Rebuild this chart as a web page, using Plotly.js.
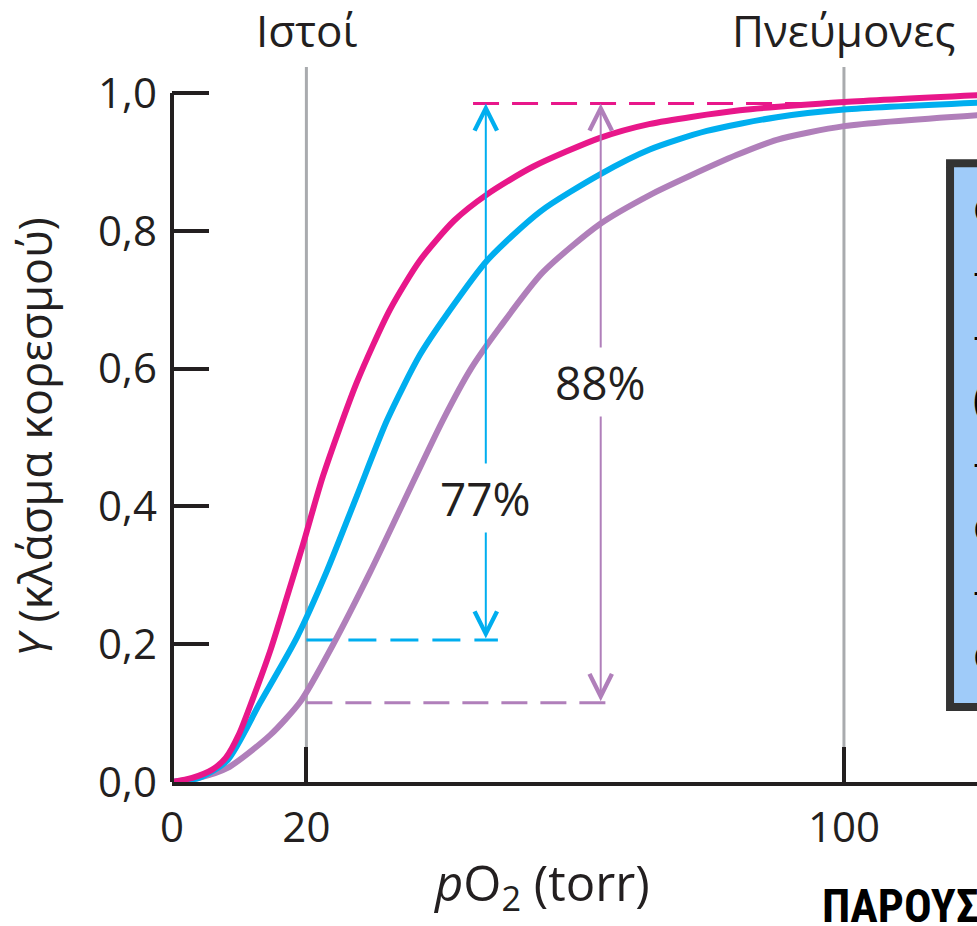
<!DOCTYPE html>
<html>
<head>
<meta charset="utf-8">
<script src="https://cdn.plot.ly/plotly-3.0.1.min.js"></script>
<style>
  html, body { margin: 0; padding: 0; background: #ffffff; }
  #chart { width: 977px; height: 926px; }
</style>
</head>
<body>
<div id="chart"></div>
<script>
// ---- Data ----
const pO2Magenta = [0, 3, 6, 8, 10, 12, 14.6, 17, 19.5, 22.5, 27.5, 32.4, 36.9, 42, 46.9, 53.7, 63.7, 71, 84.5, 100, 120];
const yMagenta   = [0, 0.006, 0.018, 0.035, 0.07, 0.12, 0.19, 0.265, 0.345, 0.445, 0.58, 0.685, 0.757, 0.815, 0.853, 0.893, 0.935, 0.955, 0.975, 0.987, 0.997];

const pO2Cyan = [0, 4, 8.2, 13.1, 18.6, 23, 27.5, 32, 36.9, 41, 46.9, 54.8, 63.7, 71.1, 79.6, 90, 100, 120];
const yCyan   = [0, 0.006, 0.031, 0.115, 0.21, 0.305, 0.415, 0.525, 0.62, 0.68, 0.757, 0.828, 0.882, 0.918, 0.945, 0.965, 0.976, 0.986];

const pO2Purple = [0, 4, 8.2, 14.6, 19.2, 24, 29.5, 34.4, 40.3, 44.5, 48.8, 55.2, 63.7, 71.1, 77.1, 84, 90, 100, 120];
const yPurple   = [0, 0.006, 0.02, 0.068, 0.118, 0.2, 0.305, 0.405, 0.525, 0.6, 0.66, 0.74, 0.81, 0.852, 0.88, 0.91, 0.932, 0.952, 0.968];

const refLineX      = [20, 100];
const refLineLabels = ['Ιστοί', 'Πνεύμονες'];

const xTickVals = [0, 20, 100];
const xTickText = ['0', '20', '100'];
const yTickVals = [0, 0.2, 0.4, 0.6, 0.8, 1.0];
const yTickText = ['0,0', '0,2', '0,4', '0,6', '0,8', '1,0'];

// delivery guide lines
const satTop        = 0.985;
const magentaDashX  = [44.8, 100];
const cyanLow       = 0.206;
const cyanDashX     = [20, 48.5];
const cyanArrowX    = 46.7;
const cyanLabel     = '77%';
const cyanLabelY    = 0.412;
const purpleLow     = 0.115;
const purpleDashX   = [20, 65.5];
const purpleArrowX  = 63.8;
const purpleLabel   = '88%';
const purpleLabelY  = 0.58;

const boxFragments = ['ά', '-', '-', '(', '-', 'ά', '-', 'ά'];

// ---- Styles ----
const MAGENTA = '#E8178A';
const CYAN = '#00AEEF';
const PURPLE = '#B07FBA';
const GRAY = '#A9ABAE';
const DARK = '#231F20';
const FONT = '"Open Sans", "Noto Sans", sans-serif';

const traces = [
  { x: [magentaDashX[0], magentaDashX[1]], y: [satTop, satTop], mode: 'lines',
    line: { color: MAGENTA, width: 3, dash: '26px,13px' }, hoverinfo: 'skip' },
  { x: [cyanDashX[0], cyanDashX[1]], y: [cyanLow, cyanLow], mode: 'lines',
    line: { color: CYAN, width: 3, dash: '28px,14px' }, hoverinfo: 'skip' },
  { x: [purpleDashX[0], purpleDashX[1]], y: [purpleLow, purpleLow], mode: 'lines',
    line: { color: PURPLE, width: 3, dash: '26px,13px' }, hoverinfo: 'skip' },
  { x: pO2Purple, y: yPurple, mode: 'lines', line: { color: PURPLE, width: 6, shape: 'spline', smoothing: 0.7 } },
  { x: pO2Cyan, y: yCyan, mode: 'lines', line: { color: CYAN, width: 6, shape: 'spline', smoothing: 0.7 } },
  { x: pO2Magenta, y: yMagenta, mode: 'lines', line: { color: MAGENTA, width: 6, shape: 'spline', smoothing: 0.7 } }
];

const shapes = [];
refLineX.forEach(v => {
  shapes.push({ type: 'line', xref: 'x', yref: 'y', x0: v, x1: v, y0: 0, y1: 1.038,
    line: { color: GRAY, width: 3 }, layer: 'below' });
});
// y axis line from 0 to 1.0
shapes.push({ type: 'line', xref: 'paper', yref: 'y', x0: 0, x1: 0, y0: 0, y1: 1.0,
  line: { color: DARK, width: 4 }, layer: 'above' });
// partially visible box on the right
shapes.push({ type: 'rect', xref: 'paper', yref: 'paper', x0: 0.9665, x1: 1.06, y0: 0.104, y1: 0.857,
  fillcolor: '#9FCBF9', line: { color: '#333333', width: 8 }, layer: 'above' });

const annotations = [
  // arrows
  { x: cyanArrowX, y: satTop, ax: cyanArrowX, ay: cyanLow, xref: 'x', yref: 'y', axref: 'x', ayref: 'y',
    text: '', showarrow: true, arrowhead: 5, startarrowhead: 5, arrowside: 'end+start',
    arrowsize: 2.2, startarrowsize: 2.2, arrowwidth: 2, arrowcolor: CYAN, standoff: 0, startstandoff: 0 },
  { x: purpleArrowX, y: satTop, ax: purpleArrowX, ay: purpleLow, xref: 'x', yref: 'y', axref: 'x', ayref: 'y',
    text: '', showarrow: true, arrowhead: 5, startarrowhead: 5, arrowside: 'end+start',
    arrowsize: 2.2, startarrowsize: 2.2, arrowwidth: 2, arrowcolor: PURPLE, standoff: 0, startstandoff: 0 },
  // percentage labels
  { x: cyanArrowX, y: cyanLabelY, xref: 'x', yref: 'y', text: cyanLabel, showarrow: false,
    font: { family: FONT, size: 46, color: DARK }, bgcolor: '#ffffff', borderpad: 3 },
  { x: purpleArrowX, y: purpleLabelY, xref: 'x', yref: 'y', text: purpleLabel, showarrow: false,
    font: { family: FONT, size: 46, color: DARK }, bgcolor: '#ffffff', borderpad: 3 },
  // axis titles
  { xref: 'paper', yref: 'paper', x: 0.4596, y: -0.143, xanchor: 'center', yanchor: 'middle',
    text: '<i>p</i>O<sub>2</sub> (torr)', showarrow: false, font: { family: FONT, size: 49, color: DARK } },
  { xref: 'paper', yref: 'paper', x: -0.170, y: 0.478, xanchor: 'center', yanchor: 'middle', textangle: -90,
    text: '<i>Y</i> (κλάσμα κορεσμού)', showarrow: false, font: { family: FONT, size: 45, color: DARK } },
  // bottom-right cut text
  { xref: 'paper', yref: 'paper', x: 0.805, y: -0.172, xanchor: 'left', yanchor: 'middle',
    text: '<b>ΠΑΡΟΥΣ</b>', showarrow: false,
    font: { family: '"Liberation Sans Narrow", "Roboto Condensed", Roboto, sans-serif', size: 46, color: '#000000' } }
];
refLineX.forEach((v, i) => {
  annotations.push({ x: v, y: 1.042, xref: 'x', yref: 'paper', text: refLineLabels[i], showarrow: false,
    xanchor: 'center', yanchor: 'middle', font: { family: FONT, size: 44, color: DARK } });
});
boxFragments.forEach((t, i) => {
  annotations.push({ xref: 'paper', yref: 'paper', x: 0.993, y: 0.799 - i * 0.0886, xanchor: 'left', yanchor: 'middle',
    text: t, showarrow: false, font: { family: FONT, size: 42, color: '#000000' } });
});

const layout = {
  width: 977, height: 926,
  margin: { l: 172, r: 0, t: 60, b: 144, pad: 0 },
  paper_bgcolor: '#ffffff', plot_bgcolor: '#ffffff',
  showlegend: false,
  xaxis: {
    range: [0, 119.8], tickvals: xTickVals, ticktext: xTickText,
    ticks: 'inside', ticklen: 35, tickwidth: 4, tickcolor: DARK,
    showline: true, linecolor: DARK, linewidth: 4, showgrid: false, zeroline: false,
    tickfont: { family: FONT, size: 42, color: DARK }, ticklabelstandoff: 6,
    title: { text: '' }
  },
  yaxis: {
    range: [0, 1.048], tickvals: yTickVals, ticktext: yTickText,
    ticks: 'inside', ticklen: 37, tickwidth: 4, tickcolor: DARK,
    showline: false, showgrid: false, zeroline: false,
    tickfont: { family: FONT, size: 42, color: DARK }, ticklabelstandoff: 14,
    title: { text: '' }
  },
  shapes: shapes,
  annotations: annotations
};

Plotly.newPlot('chart', traces, layout, { displayModeBar: false, staticPlot: true });
</script>
</body>
</html>
